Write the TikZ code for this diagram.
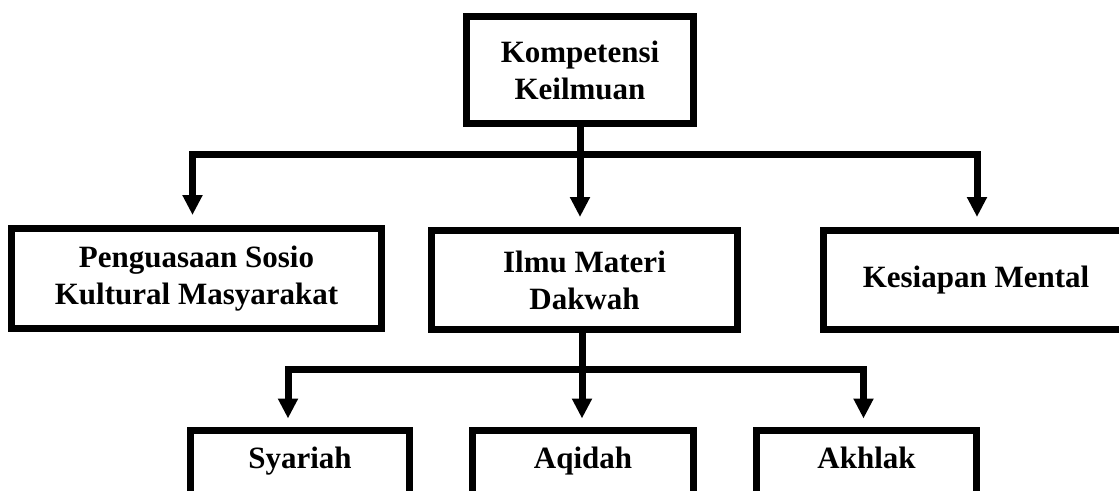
\documentclass[tikz,border=0pt]{standalone}
\usepackage{fontspec}
\setmainfont{Liberation Serif}
\usetikzlibrary{arrows.meta}
\tikzset{
  box/.style={draw, rectangle, line width=7pt, align=center, inner sep=0pt,
    font=\bfseries\fontsize{31}{37}\selectfont},
  lowbox/.style={box, anchor=north, minimum width=220pt, inner xsep=0pt,
    inner ysep=10pt, text height=28pt, text depth=57pt},
  conn/.style={line width=7pt, -{Triangle[length=20pt,width=19pt]}, shorten >=10pt},
}
\begin{document}
\begin{tikzpicture}[x=1pt,y=-1pt]
\clip (0,0) rectangle (1119,490);
% boxes
\node[box, minimum width=227pt, minimum height=107pt] (top) at (580,70) {Kompetensi\\Keilmuan};
\node[box, minimum width=370pt, minimum height=100pt] (soc) at (196.5,278.5) {Penguasaan Sosio\\Kultural Masyarakat};
\node[box, minimum width=306pt, minimum height=99pt] (mat) at (584.5,280) {Ilmu Materi\\Dakwah};
\node[box, minimum width=305pt, minimum height=99pt] (men) at (976,280) {Kesiapan Mental};
\node[lowbox, minimum width=219pt] (sya) at (300,426.5) {Syariah};
\node[lowbox, minimum width=221pt] (aqi) at (583,426.5) {Aqidah};
\node[lowbox, minimum width=220pt] (akh) at (866.5,426.5) {Akhlak};
% connector points
\coordinate (b1) at (580,154.5);
\coordinate (b1l) at (192.5,154.5);
\coordinate (b1r) at (977,154.5);
\coordinate (b2) at (582,369.5);
\coordinate (b2l) at (288,369.5);
\coordinate (b2r) at (863.5,369.5);
% level 1 connectors
\draw[conn] (top.south) -- (top.south |- mat.north);
\draw[conn] (b1) -- (b1l) -- (b1l |- soc.north);
\draw[conn] (b1) -- (b1r) -- (b1r |- men.north);
% level 2 connectors
\draw[conn, shorten >=8pt] (b2 |- mat.south) -- (b2 |- aqi.north);
\draw[conn, shorten >=8pt] (b2) -- (b2l) -- (b2l |- sya.north);
\draw[conn, shorten >=8pt] (b2) -- (b2r) -- (b2r |- akh.north);
\end{tikzpicture}
\end{document}
